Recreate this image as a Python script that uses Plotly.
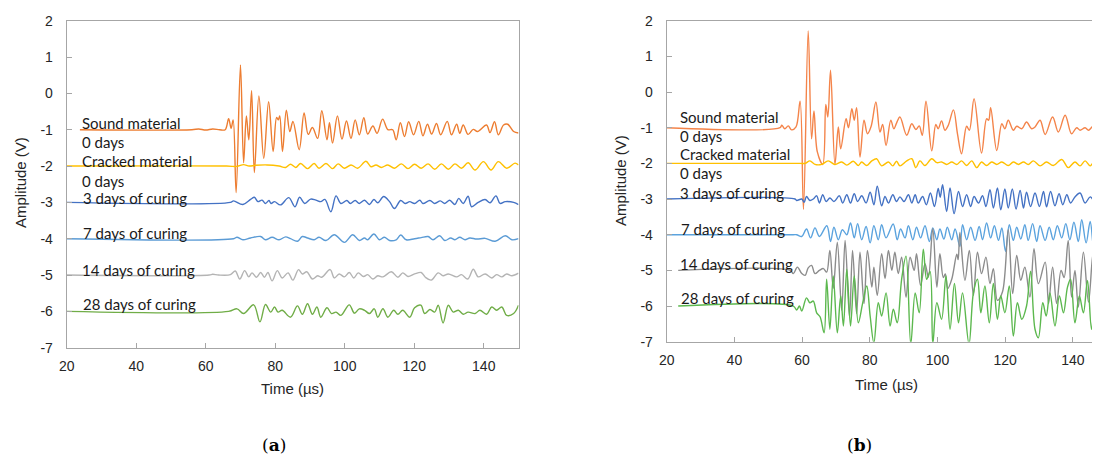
import plotly.graph_objects as go

# ---------------- panel (a) : (time us, amplitude V) ----------------
sound_a = [(23.8,-1.0),(56.0,-1.0),(58.0,-0.98),(60.0,-1.01),(62.0,-0.98),(64.0,-1.0),(65.6,-1.0),
    (66.6,-0.70),(67.3,-0.96),(67.9,-0.73),(68.75,-2.73),(70.0,0.78),(70.9,-1.91),(71.7,-0.62),
    (72.4,-1.28),(73.2,0.07),(74.0,-2.18),(75.3,-0.07),(76.7,-1.79),(78.1,-0.23),(79.4,-1.60),
    (80.4,-0.66),(80.9,-0.73),(81.3,-0.62),(82.1,-1.60),(83.2,-0.46),(84.2,-1.05),(85.1,-0.77),
    (86.9,-1.55),(88.3,-0.54),(89.5,-1.13),(90.7,-0.94),(92.2,-1.24),(93.4,-0.48),(94.9,-1.28),
    (95.6,-0.81),(96.5,-1.37),(97.9,-0.62),(99.2,-1.26),(100.5,-0.76),(101.8,-1.24),(103.0,-0.73),
    (104.2,-1.14),(105.5,-0.67),(106.6,-1.12),(108.1,-0.90),(109.3,-1.10),(110.9,-0.71),(112.4,-1.0),
    (113.8,-1.0),(114.8,-1.28),(116.0,-0.81),(117.2,-1.19),(118.4,-0.78),(119.8,-1.14),(121.3,-0.77),
    (122.5,-1.17),(123.8,-0.85),(125.0,-1.12),(126.4,-0.83),(127.6,-1.14),(129.5,-0.77),(130.7,-1.14),
    (132.2,-0.85),(133.1,-1.10),(134.1,-0.87),(135.5,-1.13),(137.0,-0.99),(138.2,-1.05),(140.8,-0.87),
    (141.8,-1.08),(143.1,-0.78),(144.2,-1.14),(145.7,-0.87),(146.9,-0.85),(148.6,-1.05),(150.0,-1.09)]

cracked_a = [(20.0,-2.0),(66.0,-2.0),(69.0,-2.01),(70.9,-1.96),(72.5,-2.0),(74.3,-1.98),(77.7,-1.97),
    (81.1,-2.0),(83.0,-2.04),(84.4,-1.95),(85.9,-2.04),(87.3,-1.93),(89.3,-2.07),(91.2,-1.93),
    (92.6,-2.06),(94.6,-1.93),(96.5,-2.07),(98.1,-1.94),(99.9,-2.06),(101.8,-1.97),(103.7,-2.06),
    (106.1,-1.87),(107.6,-2.02),(109.0,-1.97),(110.5,-2.04),(112.4,-1.97),(114.3,-2.06),(116.3,-1.94),
    (118.2,-2.07),(120.1,-1.95),(122.0,-2.06),(124.0,-1.94),(125.9,-2.09),(127.8,-1.94),(129.8,-2.09),
    (131.7,-1.94),(133.6,-2.06),(135.5,-1.91),(137.5,-2.11),(139.9,-1.88),(142.1,-2.11),(144.2,-1.88),
    (146.6,-2.06),(149.0,-1.92),(150.0,-1.97)]

days3_a = [(20.0,-3.0),(67.1,-3.0),(68.0,-2.96),(70.7,-3.06),(72.9,-2.92),(74.0,-2.86),(75.0,-2.98),
    (76.2,-2.94),(77.2,-3.03),(78.2,-2.95),(78.8,-3.03),(79.8,-2.98),(81.5,-3.07),(83.9,-2.87),
    (85.7,-3.12),(87.0,-2.86),(88.5,-3.03),(90.2,-2.91),(91.7,-2.94),(93.1,-2.98),(94.3,-2.92),
    (96.0,-3.26),(97.5,-2.82),(98.9,-3.03),(100.6,-2.95),(101.6,-3.03),(103.0,-2.95),(104.2,-3.03),
    (105.7,-2.94),(107.1,-3.06),(108.4,-2.92),(109.5,-3.01),(111.2,-2.84),(112.9,-2.98),(114.3,-3.17),
    (116.1,-2.95),(117.4,-3.03),(118.7,-2.98),(120.1,-3.03),(121.6,-2.94),(122.5,-3.03),(124.5,-2.95),
    (125.9,-3.03),(127.5,-2.96),(128.8,-3.03),(130.2,-2.94),(131.7,-3.06),(132.8,-2.89),(134.1,-3.03),
    (135.5,-2.83),(136.5,-3.12),(138.4,-3.0),(140.4,-2.92),(141.8,-3.01),(143.5,-2.82),(144.7,-3.03),
    (146.2,-2.98),(148.6,-3.0),(150.0,-3.06)]

days7_a = [(20.0,-4.0),(68.0,-4.0),(69.0,-3.96),(70.7,-4.03),(72.9,-3.98),(75.8,-3.94),(77.2,-4.03),
    (79.1,-3.96),(81.1,-4.03),(83.0,-3.95),(84.4,-4.0),(86.4,-4.07),(87.8,-3.94),(89.3,-3.98),
    (91.2,-4.03),(92.6,-3.96),(94.6,-4.05),(97.0,-3.89),(99.9,-4.10),(102.3,-3.89),(104.2,-4.05),
    (105.7,-3.98),(106.6,-4.03),(108.4,-3.87),(110.0,-4.03),(111.4,-3.96),(112.9,-4.05),(114.8,-4.03),
    (116.1,-3.90),(117.7,-4.03),(120.1,-4.0),(122.0,-3.97),(124.0,-3.94),(125.4,-4.03),(127.3,-3.92),
    (128.8,-4.05),(130.5,-3.98),(131.7,-4.03),(133.1,-3.96),(134.6,-4.03),(136.0,-3.98),(138.0,-4.01),
    (140.4,-3.99),(143.3,-4.07),(146.2,-3.92),(148.1,-4.03),(150.0,-4.0)]

days14_a = [(20.0,-5.0),(61.0,-5.0),(62.0,-4.98),(63.7,-5.0),(67.1,-4.99),(68.5,-4.89),(69.8,-5.11),
    (71.2,-4.88),(72.4,-5.05),(73.3,-4.94),(74.6,-5.06),(75.8,-4.93),(76.9,-5.06),(77.9,-4.93),
    (79.1,-5.16),(80.6,-4.88),(82.0,-5.08),(83.7,-4.94),(85.1,-5.14),(86.7,-4.85),(87.8,-4.97),
    (89.1,-4.91),(90.7,-5.11),(92.2,-5.02),(93.4,-5.06),(95.8,-4.85),(97.0,-5.08),(98.4,-4.97),
    (99.9,-5.05),(101.3,-4.93),(102.6,-5.08),(103.9,-4.94),(105.4,-5.04),(106.6,-4.99),(108.1,-5.11),
    (109.5,-5.02),(111.0,-5.05),(113.4,-4.91),(115.3,-5.06),(116.7,-4.94),(118.2,-5.04),(120.1,-4.97),
    (122.0,-4.93),(123.2,-5.06),(124.9,-5.14),(126.9,-4.94),(128.3,-5.02),(129.8,-4.97),(132.2,-5.05),
    (133.6,-4.99),(135.4,-5.11),(137.0,-4.84),(138.4,-5.05),(140.4,-4.97),(142.3,-5.08),(143.7,-4.99),
    (145.2,-5.05),(146.6,-4.97),(148.1,-5.02),(150.0,-4.95)]

days28_a = [(20.0,-6.0),(66.6,-6.0),(69.0,-5.93),(70.9,-6.06),(73.8,-5.82),(75.6,-6.29),(77.2,-5.81),
    (78.7,-6.02),(79.8,-5.88),(80.8,-6.02),(82.0,-5.97),(84.4,-6.16),(86.4,-5.85),(87.8,-6.08),
    (89.3,-5.79),(90.7,-6.08),(92.0,-5.88),(93.1,-6.16),(94.9,-5.90),(96.2,-6.06),(97.5,-6.02),
    (98.9,-6.11),(101.3,-5.82),(102.8,-6.05),(104.2,-5.93),(105.7,-5.97),(107.1,-6.06),(108.5,-5.93),
    (109.5,-6.16),(111.0,-5.93),(112.4,-6.16),(114.1,-5.97),(115.3,-6.08),(116.7,-5.97),(118.7,-6.16),
    (120.1,-5.90),(121.9,-5.83),(123.0,-6.06),(124.5,-5.95),(125.9,-6.02),(126.9,-5.83),(128.3,-6.32),
    (129.8,-5.83),(131.2,-6.02),(132.7,-5.97),(134.1,-6.08),(135.5,-6.02),(137.5,-6.06),(138.9,-5.97),
    (140.8,-6.08),(142.3,-5.88),(143.7,-5.97),(145.2,-5.88),(146.6,-6.11),(148.6,-6.06),(150.0,-5.83)]

# ---------------- panel (b) ----------------
sound_b = [(20.0,-1.0),(53.5,-1.0),(54.0,-0.93),(54.9,-1.03),(55.9,-0.95),(56.9,-1.06),(58.2,-0.98),
    (59.4,-0.26),(60.4,-3.29),(61.8,1.71),(62.8,-1.31),(63.5,-0.53),(64.5,-1.68),(66.1,-2.03),
    (67.0,-0.35),(67.6,-0.70),(68.4,0.61),(69.7,-2.03),(70.7,-0.98),(71.4,-1.59),(73.0,-0.75),
    (73.7,-1.0),(74.7,-0.47),(75.4,-0.79),(76.1,-0.44),(77.1,-1.82),(78.3,-0.79),(79.3,-1.17),
    (80.4,-0.96),(81.8,-0.28),(83.0,-1.12),(83.8,-0.91),(84.8,-1.50),(86.2,-0.79),(87.1,-1.03),
    (87.9,-0.87),(88.9,-0.70),(90.9,-1.21),(92.4,-0.89),(93.6,-1.05),(94.6,-0.95),(95.5,-1.21),
    (96.6,-0.26),(98.3,-1.65),(99.5,-0.91),(100.2,-1.03),(101.2,-0.81),(102.2,-1.07),(103.2,-0.93),
    (104.7,-0.50),(105.9,-1.17),(107.1,-1.73),(108.6,-0.96),(109.4,-1.07),(110.8,-0.19),(113.0,-1.71),
    (114.5,-0.75),(115.1,-0.79),(115.7,-0.44),(117.5,-1.64),(119.0,-0.89),(119.9,-1.03),(120.9,-0.79),
    (122.4,-1.07),(123.4,-0.96),(124.9,-1.03),(126.3,-0.84),(127.8,-1.03),(128.8,-0.98),(130.3,-0.79),
    (131.8,-1.19),(134.0,-0.70),(135.7,-1.12),(137.7,-0.65),(139.6,-1.17),(141.1,-1.0),(142.1,-1.07),
    (143.6,-1.0),(144.6,-1.07),(146.0,-0.96),(147.0,-1.03),(148.0,-1.0),(150.0,-1.0)]

cracked_b = [(20.0,-2.0),(59.4,-2.0),(60.9,-2.0),(62.3,-1.93),(63.8,-2.03),(65.8,-2.03),(67.7,-1.93),
    (69.7,-2.03),(71.7,-1.96),(73.2,-2.05),(75.1,-1.94),(76.6,-2.06),(77.6,-1.96),(79.1,-2.06),
    (80.6,-1.93),(82.0,-1.87),(83.5,-2.07),(85.5,-1.96),(86.8,-2.07),(87.9,-1.94),(88.9,-2.07),
    (90.9,-1.93),(92.4,-1.87),(93.6,-2.12),(94.8,-1.93),(96.3,-2.06),(98.3,-1.87),(99.8,-1.98),
    (101.2,-1.96),(102.7,-2.03),(104.2,-1.96),(105.7,-2.03),(107.1,-1.93),(108.6,-2.06),(110.1,-1.93),
    (111.6,-2.12),(113.0,-1.96),(114.5,-2.06),(116.0,-1.96),(117.5,-2.03),(119.0,-1.96),(120.9,-2.06),
    (122.4,-1.96),(123.9,-2.03),(125.4,-1.96),(126.8,-2.03),(128.3,-1.93),(130.3,-2.07),(132.2,-1.96),
    (134.2,-2.06),(136.7,-1.89),(138.6,-2.12),(140.6,-1.96),(142.1,-2.07),(143.6,-1.93),(145.1,-2.07),
    (146.5,-1.93),(148.0,-2.03),(150.0,-2.0)]

days3_b = [(20.0,-3.0),(57.9,-3.0),(58.4,-3.04),(59.9,-3.0),(60.6,-3.09),(61.3,-2.93),(62.3,-3.04),
    (63.3,-3.0),(64.3,-2.91),(65.1,-3.11),(66.1,-2.88),(67.1,-3.07),(68.2,-2.97),(69.4,-3.07),
    (71.0,-2.91),(72.0,-3.11),(73.2,-2.88),(74.3,-3.11),(75.4,-2.85),(76.4,-3.07),(77.6,-2.91),
    (78.9,-3.11),(80.1,-2.81),(81.2,-3.16),(82.2,-2.64),(83.5,-3.19),(84.5,-2.93),(85.5,-3.11),
    (86.8,-2.88),(87.9,-3.07),(88.9,-2.94),(90.1,-3.07),(91.4,-2.88),(92.4,-3.11),(93.4,-2.88),
    (94.3,-3.11),(95.6,-2.93),(96.7,-3.16),(97.9,-2.83),(99.1,-3.21),(100.2,-2.70),(100.8,-2.95),
    (101.5,-2.60),(102.7,-3.35),(103.7,-2.69),(104.9,-3.41),(106.2,-2.79),(107.4,-3.21),(108.6,-2.88),
    (109.8,-3.21),(110.8,-2.93),(112.1,-3.11),(113.3,-2.91),(114.3,-3.21),(115.5,-2.74),(116.5,-3.25),
    (117.7,-2.69),(118.7,-3.30),(119.9,-2.72),(120.9,-3.25),(122.1,-2.72),(123.2,-3.28),(124.4,-2.76),
    (125.4,-3.25),(126.3,-2.81),(127.5,-3.21),(128.8,-2.83),(130.1,-3.21),(131.3,-2.79),(132.2,-3.22),
    (133.4,-2.79),(134.7,-3.19),(135.9,-2.85),(137.0,-3.16),(138.2,-2.88),(139.3,-3.11),(140.6,-2.94),
    (142.1,-2.83),(143.6,-3.11),(145.1,-2.94),(146.5,-3.07),(148.0,-2.93),(150.0,-3.0)]

days7_b = [(20.0,-4.0),(57.4,-4.0),(58.4,-4.0),(59.9,-4.05),(61.3,-3.84),(62.5,-4.09),(63.8,-3.81),
    (65.1,-4.05),(67.3,-3.75),(68.4,-4.19),(69.4,-3.79),(70.7,-4.14),(71.9,-3.86),(73.2,-4.0),
    (74.3,-3.67),(75.4,-4.09),(76.4,-3.69),(77.6,-4.14),(78.9,-3.77),(80.1,-4.23),(81.2,-3.75),
    (82.5,-4.14),(83.5,-3.72),(84.8,-4.09),(86.9,-3.70),(88.1,-4.14),(89.1,-3.84),(90.4,-4.09),
    (91.4,-3.75),(92.7,-4.14),(93.8,-3.79),(95.0,-4.09),(96.3,-3.75),(97.6,-4.19),(98.6,-3.81),
    (99.8,-4.14),(100.7,-3.84),(101.9,-4.12),(102.9,-3.79),(104.2,-4.14),(105.2,-3.84),(106.6,-4.33),
    (107.4,-3.72),(108.6,-4.14),(109.8,-3.79),(111.1,-4.16),(112.3,-3.77),(113.3,-4.14),(114.5,-3.67),
    (115.7,-4.09),(116.8,-3.75),(118.0,-4.16),(119.0,-3.81),(120.1,-4.47),(121.2,-3.72),(122.4,-4.16),
    (123.4,-3.79),(124.6,-4.12),(125.8,-3.72),(126.8,-4.16),(128.1,-3.69),(129.3,-4.19),(130.3,-3.75),
    (131.8,-4.16),(133.0,-3.79),(134.2,-4.14),(135.4,-3.75),(136.7,-4.09),(137.9,-3.69),(139.1,-4.14),
    (140.3,-3.65),(141.6,-4.19),(142.6,-3.58),(143.9,-4.23),(145.1,-3.63),(146.2,-4.42),(147.2,-3.56),
    (148.0,-4.05),(150.0,-3.9)]

days14_b = [(23.4,-5.0),(56.5,-5.0),(57.4,-5.09),(58.6,-4.91),(59.9,-5.09),(60.9,-5.14),(61.8,-4.93),
    (62.8,-4.86),(63.8,-5.09),(65.1,-5.0),(66.3,-4.95),(67.25,-5.05),(68.2,-4.44),(69.2,-5.5),
    (70.4,-4.21),(71.7,-6.12),(72.7,-4.16),(74.0,-6.31),(74.9,-4.44),(76.1,-6.21),(77.1,-4.49),
    (78.3,-5.93),(79.3,-4.44),(80.6,-5.47),(81.2,-4.91),(82.2,-5.70),(83.5,-4.53),(84.5,-5.23),
    (85.5,-4.44),(86.5,-5.0),(87.4,-4.49),(88.4,-5.09),(89.4,-4.63),(90.7,-5.75),(91.9,-4.63),
    (93.1,-5.0),(93.8,-4.53),(95.0,-5.42),(96.3,-4.81),(97.3,-5.19),(98.6,-3.83),(99.8,-5.47),
    (100.7,-4.53),(101.7,-5.2),(102.3,-5.1),(103.0,-5.51),(104.2,-5.25),(105.7,-4.55),(106.1,-4.7),
    (106.6,-3.94),(108.1,-5.28),(109.4,-4.44),(110.6,-5.70),(111.8,-4.49),(113.0,-5.09),(114.3,-4.63),
    (115.5,-5.37),(116.5,-4.95),(117.7,-5.84),(119.2,-5.6),(120.9,-3.86),(122.2,-5.65),(123.4,-4.58),
    (124.6,-5.28),(125.8,-4.91),(127.3,-5.75),(128.5,-4.39),(129.8,-5.37),(131.8,-4.77),(132.8,-5.93),
    (134.0,-4.91),(135.2,-5.93),(136.5,-5.0),(137.4,-5.2),(138.6,-4.16),(139.6,-5.75),(140.6,-5.0),
    (141.6,-6.03),(143.1,-4.49),(144.6,-5.89),(146.0,-4.49),(147.2,-5.56),(148.0,-4.53),(150.0,-5.0)]

days28_b = [(23.4,-6.0),(57.4,-6.0),(58.4,-6.11),(59.2,-6.0),(59.9,-6.14),(61.3,-5.77),(62.3,-5.91),
    (63.3,-5.86),(64.3,-6.19),(65.3,-6.3),(66.5,-6.75),(67.25,-5.25),(68.2,-6.65),(69.2,-5.16),
    (70.4,-6.75),(71.4,-5.72),(72.2,-6.56),(73.2,-4.97),(74.3,-6.56),(75.4,-5.16),(76.6,-6.47),
    (77.9,-5.91),(79.1,-5.44),(80.1,-6.28),(81.2,-7.03),(82.5,-5.91),(83.5,-6.28),(84.8,-5.63),
    (86.0,-6.56),(86.95,-6.09),(88.1,-6.47),(89.4,-5.25),(90.7,-4.60),(92.1,-7.07),(93.4,-5.63),
    (94.6,-6.19),(95.8,-4.41),(96.8,-5.25),(97.8,-5.03),(98.6,-7.07),(99.8,-5.91),(101.2,-6.37),
    (102.5,-5.16),(103.7,-6.65),(105.0,-5.37),(106.2,-6.47),(107.4,-5.63),(109.3,-7.07),(110.6,-5.63),
    (111.8,-5.25),(112.8,-6.19),(114.0,-5.44),(115.3,-6.47),(116.5,-5.37),(117.7,-6.37),(118.7,-5.72),
    (119.9,-6.19),(121.2,-5.44),(122.4,-6.84),(123.6,-5.91),(124.9,-6.37),(126.3,-6.0),(127.5,-5.02),
    (128.8,-6.65),(129.8,-6.89),(131.1,-5.91),(132.1,-6.28),(133.2,-5.63),(134.7,-6.56),(136.0,-5.72),
    (137.2,-6.19),(138.4,-5.47),(139.3,-5.25),(140.6,-6.47),(141.9,-5.72),(143.1,-6.19),(144.3,-5.28),
    (145.5,-6.65),(146.5,-5.91),(147.5,-6.56),(150.0,-6.2)]

series_labels = ["Sound material", "0 days", "Cracked material", "0 days",
                 "3 days of curing", "7 days of curing", "14 days of curing", "28 days of curing"]
x_ticks = [20, 40, 60, 80, 100, 120, 140]
y_ticks = [-7, -6, -5, -4, -3, -2, -1, 0, 1, 2]
y_tick_text = ["-7", "-6", "-5", "-4", "-3", "-2", "-1", "0", "1", "2"]

colors_a = ["#ED7D31", "#FFC000", "#4472C4", "#5B9BD5", "#B4B4B4", "#70AD47"]
colors_b = ["#F4844A", "#FFC000", "#4472C4", "#5BA3DE", "#8C8C8C", "#5CB84E"]

W, H = 1100, 457
OFF = 8  # page body margin of the html output

def px(v):
    return (v - OFF) / W

def py(v):
    return 1 - (v - OFF) / H

fig = go.Figure()

def add(pairs, color, xa, ya):
    fig.add_trace(go.Scatter(
        x=[p[0] for p in pairs], y=[p[1] for p in pairs], mode="lines",
        line=dict(color=color, width=1.4, shape="spline", smoothing=1.0),
        xaxis=xa, yaxis=ya, showlegend=False, hoverinfo="skip"))

for s, c in zip([sound_a, cracked_a, days3_a, days7_a, days14_a, days28_a], colors_a):
    add(s, c, "x", "y")
for s, c in zip([sound_b, cracked_b, days3_b, days7_b, days14_b, days28_b], colors_b):
    add(s, c, "x2", "y2")

axis_common = dict(showline=True, linecolor="#A6A6A6", linewidth=1, ticks="inside",
                   ticklen=5, tickcolor="#A6A6A6", showgrid=False, zeroline=False,
                   automargin=False,
                   tickfont=dict(family="Liberation Sans, Arial", size=14, color="#262626"))

fig.update_layout(
    width=W, height=H, margin=dict(l=0, r=0, t=0, b=0, pad=0, autoexpand=False),
    paper_bgcolor="white", plot_bgcolor="white",
    xaxis=dict(domain=[px(66.7), px(518.5)], range=[20, 150], tickvals=x_ticks, mirror=True,
               anchor="y", ticklabelstandoff=5, **axis_common),
    yaxis=dict(domain=[py(347.7), py(20.7)], range=[-7, 2], tickvals=y_ticks,
               ticktext=y_tick_text, mirror=True, anchor="x", ticklabelstandoff=10, **axis_common),
    xaxis2=dict(domain=[px(666.7), px(1100)], range=[20, 148.0], tickvals=x_ticks, mirror=True,
                anchor="y2", ticklabelstandoff=5, **axis_common),
    yaxis2=dict(domain=[py(341.7), py(20.7)], range=[-7, 2], tickvals=y_ticks,
                ticktext=y_tick_text, mirror=False, anchor="x2", ticklabelstandoff=10, **axis_common),
)

lab_font = dict(family="Lato, Carlito, Calibri, sans-serif", size=15, color="#1a1a1a")
left_pos = [(23.8, -0.82), (23.8, -1.35), (23.9, -1.86), (23.9, -2.41),
            (24.2, -2.87), (24.2, -3.85), (23.8, -4.86), (24.2, -5.80)]
right_pos = [(23.4, -0.69), (23.4, -1.22), (23.4, -1.74), (23.4, -2.27),
             (23.4, -2.83), (23.6, -3.85), (23.4, -4.82), (23.6, -5.77)]
for txt, (x, y) in zip(series_labels, left_pos):
    fig.add_annotation(x=x, y=y, xref="x", yref="y", text=txt, showarrow=False,
                       xanchor="left", yanchor="middle", font=lab_font)
for txt, (x, y) in zip(series_labels, right_pos):
    fig.add_annotation(x=x, y=y, xref="x2", yref="y2", text=txt, showarrow=False,
                       xanchor="left", yanchor="middle", font=lab_font)

title_font = dict(family="Liberation Sans, Arial", size=15, color="#262626")
fig.add_annotation(x=px(20), y=py(183), xref="paper", yref="paper", text="Amplitude (V)",
                   textangle=-90, showarrow=False, xanchor="center", yanchor="middle", font=title_font)
fig.add_annotation(x=px(620), y=py(181), xref="paper", yref="paper", text="Amplitude (V)",
                   textangle=-90, showarrow=False, xanchor="center", yanchor="middle", font=title_font)
fig.add_annotation(x=px(292.3), y=py(388), xref="paper", yref="paper", text="Time (µs)",
                   showarrow=False, xanchor="center", yanchor="middle", font=title_font)
fig.add_annotation(x=px(886.7), y=py(384), xref="paper", yref="paper", text="Time (µs)",
                   showarrow=False, xanchor="center", yanchor="middle", font=title_font)

panel_font = dict(family="DejaVu Serif, Liberation Serif, serif", size=17, color="black")
fig.add_annotation(x=px(274), y=py(445), xref="paper", yref="paper", text="(<b>a</b>)",
                   showarrow=False, xanchor="center", yanchor="middle", font=panel_font)
fig.add_annotation(x=px(859), y=py(445), xref="paper", yref="paper", text="(<b>b</b>)",
                   showarrow=False, xanchor="center", yanchor="middle", font=panel_font)

fig.write_html("out.html")
